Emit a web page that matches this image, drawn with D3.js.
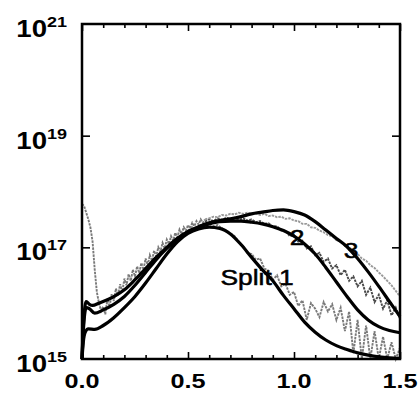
<!DOCTYPE html>
<html>
<head>
<meta charset="utf-8">
<script src="https://cdn.jsdelivr.net/npm/d3@7"></script>
<style>
  body { margin: 0; background: #fff; }
  svg { display: block; }
  text { font-family: 'Liberation Sans', Arial, sans-serif; fill: #000; }
</style>
</head>
<body>
<script>
// values are log10 of the density
const split1X = [0, 0.006, 0.015, 0.03, 0.06, 0.1, 0.15, 0.2, 0.25, 0.3, 0.35, 0.4, 0.45, 0.5, 0.55, 0.6, 0.65, 0.7, 0.75, 0.8, 0.85, 0.9, 0.95, 1.0, 1.05, 1.1, 1.15, 1.2, 1.25, 1.3, 1.35, 1.4, 1.45, 1.5]
const split1Y = [15.0, 15.3, 15.48, 15.54, 15.53, 15.6, 15.74, 15.92, 16.12, 16.36, 16.62, 16.88, 17.1, 17.25, 17.33, 17.36, 17.34, 17.24, 17.05, 16.82, 16.6, 16.4, 16.14, 15.9, 15.66, 15.48, 15.34, 15.24, 15.17, 15.11, 15.07, 15.04, 15.02, 15.01]

const split2X = [0, 0.008, 0.02, 0.035, 0.06, 0.1, 0.15, 0.2, 0.25, 0.3, 0.35, 0.4, 0.45, 0.5, 0.55, 0.6, 0.65, 0.7, 0.75, 0.8, 0.85, 0.9, 0.95, 1.0, 1.05, 1.1, 1.15, 1.2, 1.25, 1.3, 1.35, 1.4, 1.45, 1.5]
const split2Y = [15.0, 15.6, 15.92, 15.9, 15.82, 15.88, 15.98, 16.12, 16.32, 16.55, 16.78, 16.98, 17.15, 17.28, 17.36, 17.42, 17.46, 17.47, 17.47, 17.45, 17.42, 17.37, 17.3, 17.2, 17.06, 16.88, 16.64, 16.38, 16.12, 15.88, 15.7, 15.58, 15.51, 15.47]

const split3X = [0, 0.008, 0.02, 0.035, 0.05, 0.08, 0.12, 0.16, 0.2, 0.25, 0.3, 0.35, 0.4, 0.45, 0.5, 0.55, 0.6, 0.65, 0.7, 0.75, 0.8, 0.85, 0.9, 0.95, 1.0, 1.05, 1.1, 1.15, 1.2, 1.25, 1.3, 1.35, 1.4, 1.45, 1.5]
const split3Y = [15.0, 15.7, 16.03, 15.98, 15.96, 16.0, 16.06, 16.14, 16.24, 16.42, 16.62, 16.82, 17.0, 17.16, 17.28, 17.37, 17.44, 17.48, 17.51, 17.55, 17.6, 17.63, 17.66, 17.67, 17.64, 17.58, 17.46, 17.31, 17.16, 17.01, 16.8, 16.56, 16.3, 16.03, 15.76]

// noisy grey runs: shared start, then one tail per split
const greyHeadX = [0, 0.01, 0.02, 0.03, 0.04, 0.05, 0.06, 0.07, 0.08, 0.09, 0.1, 0.11, 0.12, 0.13, 0.14, 0.15, 0.16, 0.17, 0.18, 0.19, 0.2, 0.21, 0.22, 0.23, 0.24, 0.25, 0.26, 0.27, 0.28, 0.29, 0.3, 0.31, 0.32, 0.33, 0.34, 0.35, 0.36, 0.37, 0.38, 0.39, 0.4, 0.41, 0.42, 0.43, 0.44, 0.45, 0.46, 0.47, 0.48, 0.49, 0.5, 0.51, 0.52, 0.53, 0.54, 0.55, 0.56, 0.57, 0.58]
const greyHeadY = [17.78, 17.74, 17.62, 17.5, 17.35, 17.1, 16.6, 16.2, 16.0, 15.86, 15.94, 15.8, 16.08, 15.94, 16.16, 16.04, 16.26, 16.14, 16.34, 16.2, 16.44, 16.32, 16.52, 16.4, 16.6, 16.48, 16.66, 16.54, 16.72, 16.6, 16.8, 16.68, 16.86, 16.76, 16.94, 16.84, 17.0, 16.92, 17.08, 16.98, 17.14, 17.06, 17.2, 17.12, 17.26, 17.18, 17.32, 17.24, 17.36, 17.3, 17.4, 17.34, 17.44, 17.38, 17.47, 17.41, 17.5, 17.44, 17.5]

const greyTail1X = [0.5, 0.52, 0.54, 0.56, 0.58, 0.6, 0.62, 0.64, 0.66, 0.68, 0.7, 0.72, 0.74, 0.76, 0.78, 0.8, 0.82, 0.84, 0.86, 0.88, 0.9, 0.92, 0.94, 0.96, 0.98, 1.0, 1.02, 1.04, 1.06, 1.08, 1.1, 1.12, 1.14, 1.16, 1.18, 1.2, 1.22, 1.24, 1.26, 1.28, 1.3, 1.32, 1.34, 1.36, 1.38, 1.4, 1.42, 1.44, 1.46, 1.48, 1.5]
const greyTail1Y = [17.3, 17.36, 17.34, 17.4, 17.38, 17.42, 17.38, 17.4, 17.34, 17.3, 17.25, 17.2, 17.1, 17.02, 16.9, 16.88, 16.78, 16.8, 16.62, 16.58, 16.42, 16.5, 16.3, 16.35, 16.15, 16.2, 15.95, 16.05, 15.7, 16.0, 15.9, 15.75, 16.02, 15.85, 15.98, 15.7, 15.92, 15.5, 15.85, 15.1, 15.7, 15.0, 15.6, 15.0, 15.5, 15.0, 15.4, 15.0, 15.3, 15.0, 15.2]

const greyTail2X = [0.58, 0.6, 0.62, 0.64, 0.66, 0.68, 0.7, 0.72, 0.74, 0.76, 0.78, 0.8, 0.82, 0.84, 0.86, 0.88, 0.9, 0.92, 0.94, 0.96, 0.98, 1.0, 1.02, 1.04, 1.06, 1.08, 1.1, 1.12, 1.14, 1.16, 1.18, 1.2, 1.22, 1.24, 1.26, 1.28, 1.3, 1.32, 1.34, 1.36, 1.38, 1.4, 1.42, 1.44, 1.46, 1.48, 1.5]
const greyTail2Y = [17.46, 17.5, 17.47, 17.52, 17.49, 17.53, 17.5, 17.53, 17.49, 17.52, 17.48, 17.5, 17.45, 17.47, 17.42, 17.43, 17.37, 17.38, 17.3, 17.3, 17.2, 17.22, 17.1, 17.12, 16.98, 17.02, 16.86, 16.9, 16.74, 16.8, 16.62, 16.68, 16.5, 16.6, 16.4, 16.48, 16.3, 16.4, 16.15, 16.28, 16.02, 16.15, 15.9, 16.05, 15.78, 15.92, 15.72]

const greyTail3X = [0.58, 0.6, 0.62, 0.64, 0.66, 0.68, 0.7, 0.72, 0.74, 0.76, 0.78, 0.8, 0.82, 0.84, 0.86, 0.88, 0.9, 0.92, 0.94, 0.96, 0.98, 1.0, 1.02, 1.04, 1.06, 1.08, 1.1, 1.12, 1.14, 1.16, 1.18, 1.2, 1.22, 1.24, 1.26, 1.28, 1.3, 1.32, 1.34, 1.36, 1.38, 1.4, 1.42, 1.44, 1.46, 1.48, 1.5]
const greyTail3Y = [17.5, 17.52, 17.55, 17.54, 17.58, 17.57, 17.6, 17.59, 17.62, 17.6, 17.62, 17.6, 17.61, 17.58, 17.6, 17.56, 17.57, 17.54, 17.55, 17.51, 17.52, 17.48, 17.47, 17.42, 17.42, 17.36, 17.35, 17.3, 17.27, 17.22, 17.2, 17.13, 17.1, 17.03, 17.0, 16.93, 16.88, 16.8, 16.76, 16.68, 16.63, 16.55, 16.48, 16.4, 16.32, 16.22, 16.12]

const xMajorTicks = [0, 0.5, 1.0, 1.5]
const xMinorTicks = [0.1, 0.2, 0.3, 0.4, 0.6, 0.7, 0.8, 0.9, 1.1, 1.2, 1.3, 1.4]
const xTickLabels = ['0.0', '0.5', '1.0', '1.5']
const yTickExps = [19, 17]
const yLabelExps = [21, 19, 17, 15]

const curveLabels = [
  { text: 'Split 1', x: 0.826, y: 16.33 },
  { text: '2', x: 1.014, y: 17.04 },
  { text: '3', x: 1.269, y: 16.81 }
]

const W = 418
const H = 393
const margin = { top: 24, right: 18, bottom: 34, left: 82 }

const svg = d3.select('body').append('svg')
  .attr('width', W)
  .attr('height', H)

const x = d3.scaleLinear().domain([0, 1.5]).range([margin.left, W - margin.right])
const y = d3.scaleLog().domain([1e15, 1e21]).range([H - margin.bottom, margin.top])

const zip = (xs, ys) => xs.map((v, i) => [v, ys[i]])

const smooth = d3.line()
  .x(d => x(d[0]))
  .y(d => y(Math.pow(10, d[1])))
  .curve(d3.curveMonotoneX)

const jagged = d3.line()
  .x(d => x(d[0]))
  .y(d => y(Math.pow(10, d[1])))

const plot = svg.append('g')

const greyRuns = [
  { pts: zip(greyHeadX, greyHeadY), color: '#7a7a7a' },
  { pts: zip(greyTail1X, greyTail1Y), color: '#7a7a7a' },
  { pts: zip(greyTail2X, greyTail2Y), color: '#4a4a4a' },
  { pts: zip(greyTail3X, greyTail3Y), color: '#9a9a9a' }
]

plot.selectAll('path.grey')
  .data(greyRuns)
  .join('path')
  .attr('class', 'grey')
  .attr('d', d => jagged(d.pts))
  .attr('fill', 'none')
  .attr('stroke', d => d.color)
  .attr('stroke-width', 1.9)
  .attr('stroke-dasharray', '2.5,1')

plot.selectAll('path.black')
  .data([zip(split1X, split1Y), zip(split2X, split2Y), zip(split3X, split3Y)])
  .join('path')
  .attr('class', 'black')
  .attr('d', smooth)
  .attr('fill', 'none')
  .attr('stroke', '#000')
  .attr('stroke-width', 3.2)
  .attr('stroke-linejoin', 'round')

// frame
svg.append('rect')
  .attr('x', margin.left)
  .attr('y', margin.top)
  .attr('width', W - margin.left - margin.right)
  .attr('height', H - margin.top - margin.bottom)
  .attr('fill', 'none')
  .attr('stroke', '#000')
  .attr('stroke-width', 2.5)

const tickG = svg.append('g')

const addAxis = (axis, tx, ty) => {
  tickG.append('g')
    .attr('transform', `translate(${tx},${ty})`)
    .call(axis)
    .call(g => g.select('.domain').remove())
    .call(g => g.selectAll('.tick line').attr('stroke', '#000').attr('stroke-width', 1.6))
    .call(g => g.selectAll('.tick text').remove())
}

const yBottom = H - margin.bottom
addAxis(d3.axisBottom(x).tickValues(xMajorTicks).tickSize(-7), 0, yBottom)
addAxis(d3.axisBottom(x).tickValues(xMinorTicks).tickSize(-4), 0, yBottom)
addAxis(d3.axisTop(x).tickValues(xMajorTicks).tickSize(-7), 0, margin.top)
addAxis(d3.axisTop(x).tickValues(xMinorTicks).tickSize(-4), 0, margin.top)
const yTicks = yTickExps.map(e => Math.pow(10, e))
addAxis(d3.axisLeft(y).tickValues(yTicks).tickSize(-8), margin.left, 0)
addAxis(d3.axisRight(y).tickValues(yTicks).tickSize(-8), W - margin.right, 0)

// x labels
svg.selectAll('text.xl')
  .data(xMajorTicks)
  .join('text')
  .attr('class', 'xl')
  .attr('transform', d => `translate(${x(d)},${yBottom + 29}) scale(1.2,1)`)
  .attr('text-anchor', 'middle')
  .attr('font-size', 21)
  .attr('font-weight', 'bold')
  .text((d, i) => xTickLabels[i])

// y labels with superscript exponent
const yl = svg.selectAll('text.yl')
  .data(yLabelExps)
  .join('text')
  .attr('class', 'yl')
  .attr('transform', d => `translate(67,${y(Math.pow(10, d)) + 13}) scale(1.2,1)`)
  .attr('text-anchor', 'end')
  .attr('font-weight', 'bold')
yl.append('tspan').attr('font-size', 23).text('10')
yl.append('tspan').attr('font-size', 15).attr('dy', -10).text(d => d)

// curve labels
svg.selectAll('text.cl')
  .data(curveLabels)
  .join('text')
  .attr('class', 'cl')
  .attr('transform', d => `translate(${x(d.x)},${y(Math.pow(10, d.y))}) scale(1.2,1)`)
  .attr('text-anchor', 'middle')
  .attr('font-size', 22)
  .attr('stroke', '#000')
  .attr('stroke-width', 0.5)
  .text(d => d.text)
</script>
</body>
</html>
